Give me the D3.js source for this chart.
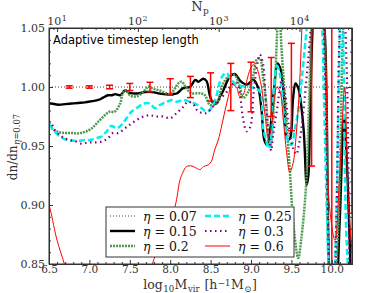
<!DOCTYPE html>
<html><head><meta charset="utf-8">
<script src="https://cdn.jsdelivr.net/npm/d3@7"></script>
<style>body{margin:0;background:#fff}svg{display:block}</style>
</head><body><svg id="c" width="390" height="293"></svg>
<script>
// ---------------- data ----------------
const massEta007 = [6.5, 10.25];
const ratioEta007 = [1.0, 1.0];

const massEta015 = [6.5,6.53,6.615,6.70,6.78,6.86,6.945,7.03,7.11,7.17,7.23,7.28,7.32,7.38,7.44,7.50,7.585,7.67,7.75,7.83,7.915,8.0,8.08,8.16,8.245,8.31,8.35,8.41,8.45,8.49,8.53,8.575,8.615,8.65,8.74,8.80,8.87,8.95,9.03,9.09,9.13,9.165,9.2,9.24,9.28,9.33,9.37,9.41,9.45,9.48,9.52,9.55,9.585,9.65,9.69,9.71,9.73,9.77,9.83,9.91,9.97,10.03,10.10,10.15,10.19,10.25];
const ratioEta015 = [0.986,0.986,0.985,0.9855,0.986,0.9865,0.987,0.988,0.989,0.991,0.993,0.993,0.994,0.993,0.997,0.995,0.9945,0.9955,0.996,0.995,0.994,0.994,0.9945,0.999,1.0,1.006,1.0045,1.007,1.005,0.993,0.9865,0.986,0.992,0.996,1.009,1.011,1.005,1.002,1.006,0.999,0.981,0.955,0.951,0.965,0.995,1.02,1.014,0.99,0.956,0.956,0.99,1.003,0.999,0.965,0.917,0.925,0.97,1.06,1.10,1.05,0.84,0.79,0.89,0.975,0.93,0.80];

const massEta02 = [6.5,6.53,6.615,6.70,6.78,6.86,6.945,7.03,7.11,7.19,7.25,7.31,7.38,7.42,7.46,7.50,7.585,7.67,7.73,7.79,7.87,7.95,8.0,8.06,8.10,8.14,8.20,8.26,8.37,8.43,8.49,8.55,8.60,8.65,8.74,8.80,8.86,8.90,8.97,9.03,9.07,9.11,9.15,9.19,9.215,9.24,9.26,9.30,9.345,9.38,9.42,9.48,9.53,9.585,9.62,9.68,9.72,9.76,9.85,9.92,9.96,10.0,10.08,10.14,10.18,10.25];
const ratioEta02 = [0.967,0.965,0.962,0.961,0.961,0.9607,0.962,0.965,0.9706,0.976,0.979,0.979,0.986,0.996,0.997,0.993,0.992,0.996,1.0003,0.9985,0.997,0.9947,0.994,0.999,1.003,1.0045,0.999,0.9947,0.9947,0.993,0.985,0.985,0.99,1.002,1.01,1.01,1.0006,0.9907,0.9964,1.01,1.023,1.024,1.0076,0.985,0.955,0.949,0.96,1.0076,1.07,1.03,0.99,0.93,0.88,0.855,0.87,0.915,0.99,1.06,1.10,1.02,0.85,0.80,0.88,1.05,1.10,1.10];

const massEta025 = [6.5,6.53,6.575,6.64,6.70,6.78,6.86,6.945,7.01,7.07,7.15,7.21,7.27,7.34,7.40,7.46,7.52,7.585,7.67,7.75,7.81,7.87,7.96,8.02,8.08,8.16,8.245,8.33,8.39,8.45,8.49,8.53,8.575,8.615,8.66,8.70,8.74,8.82,8.905,8.99,9.03,9.11,9.15,9.19,9.215,9.24,9.275,9.32,9.36,9.40,9.46,9.50,9.545,9.585,9.63,9.67,9.69,9.73,9.80,9.88,9.90,9.96,10.0,10.04,10.1,10.12,10.14,10.2,10.25];
const ratioEta025 = [0.968,0.966,0.962,0.958,0.9556,0.9545,0.9545,0.955,0.955,0.9565,0.958,0.962,0.967,0.965,0.968,0.9735,0.979,0.982,0.986,0.986,0.982,0.9847,0.9875,0.989,0.9875,0.989,0.9875,0.985,0.982,0.979,0.9805,0.985,0.993,1.0045,1.0104,1.012,1.0076,1.002,1.0006,1.0006,0.999,0.9964,0.965,0.954,0.948,0.952,0.99,1.018,1.01,0.98,0.954,0.951,0.965,0.98,1.0076,1.036,1.05,1.09,1.10,1.05,1.0,0.85,0.80,0.85,1.05,1.10,1.05,0.85,0.83];

const massEta03 = [6.5,6.53,6.575,6.64,6.70,6.76,6.82,6.90,6.985,7.07,7.15,7.23,7.29,7.36,7.44,7.50,7.585,7.67,7.75,7.83,7.915,8.0,8.08,8.16,8.22,8.29,8.33,8.39,8.45,8.51,8.575,8.615,8.69,8.74,8.82,8.87,8.90,8.945,8.99,9.03,9.07,9.11,9.15,9.19,9.23,9.25,9.275,9.32,9.38,9.42,9.46,9.52,9.56,9.60,9.64,9.68,9.72,9.74,9.78,9.85,9.9,9.95,9.98,10.02,10.06,10.1,10.14,10.19,10.22,10.25];
const ratioEta03 = [0.971,0.969,0.963,0.959,0.9563,0.955,0.9543,0.952,0.953,0.953,0.9537,0.9565,0.961,0.961,0.965,0.968,0.972,0.975,0.976,0.975,0.975,0.9735,0.978,0.983,0.9875,0.985,0.9805,0.978,0.978,0.982,0.9875,0.990,0.995,1.0,1.004,0.99,0.974,0.9625,0.966,0.9935,1.016,1.0275,1.019,0.98,0.955,0.946,0.96,0.98,1.005,0.995,0.971,0.948,0.943,0.954,0.974,1.002,1.033,1.05,1.08,1.10,1.05,0.9,0.84,0.83,0.9,1.05,1.08,1.0,0.85,0.80];

const massEta06 = [6.5,6.52,6.6,6.69,6.8,7.0,7.3,7.6,7.78,7.92,8.06,8.12,8.16,8.20,8.27,8.33,8.37,8.41,8.47,8.51,8.55,8.595,8.64,8.68,8.72,8.76,8.82,8.86,8.90,8.95,8.99,9.03,9.07,9.13,9.17,9.215,9.25,9.29,9.32,9.36,9.40,9.44,9.48,9.52,9.56,9.60,9.63,9.66,9.75,9.88,9.91,9.97,10.04,10.10,10.16,10.2,10.25];
const ratioEta06 = [0.90,0.895,0.87,0.85,0.82,0.78,0.76,0.79,0.85,0.875,0.899,0.921,0.928,0.9325,0.933,0.931,0.930,0.9325,0.934,0.937,0.9466,0.955,0.968,0.9805,0.992,1.002,1.0,0.992,0.993,1.006,1.015,1.019,1.016,1.0,0.978,0.957,0.965,0.99,1.0,0.996,0.972,0.945,0.928,0.935,0.96,1.0,1.05,1.09,1.10,1.06,1.05,0.90,0.87,0.93,1.0,0.91,0.86];

const errMass = [6.75,7.0,7.25,7.5,7.75,8.0,8.25,8.5,8.75,9.0,9.25,9.5,9.75,10.0,10.25];
const errHalf = [0.001,0.001,0.0015,0.003,0.004,0.007,0.009,0.012,0.02,0.021,0.025,0.037,0.067,0.2,0.107];

const topTicks = [10, 100, 1000, 10000];
const yTicks = [0.85, 0.90, 0.95, 1.00, 1.05];
const xTicks = [6.5, 7.0, 7.5, 8.0, 8.5, 9.0, 9.5, 10.0];

// ---------------- layout ----------------
const L = 49, R = 352, T = 28, B = 264;
const svg = d3.select('#c');
const x = d3.scaleLinear().domain([6.5, 10.25]).range([L, R]);
const y = d3.scaleLinear().domain([0.85, 1.05]).range([B, T]);
const xTop = d3.scaleLog().domain([Math.pow(10, 0.9), Math.pow(10, 10.25 - 5.6)]).range([L, R]);
const serif = "'DejaVu Serif', serif";
const axisColor = '#333';

svg.append('defs').append('clipPath').attr('id', 'clip')
  .append('rect').attr('x', L).attr('y', T).attr('width', R - L).attr('height', B - T);

const plot = svg.append('g').attr('clip-path', 'url(#clip)');
const line = d3.line().x(d => x(d[0])).y(d => y(d[1])).curve(d3.curveCatmullRom.alpha(0.5));
const zip = (a, b) => a.map((v, i) => [v, b[i]]);

const series = [
  {m: massEta007, r: ratioEta007, color: '#444', w: 1, dash: '1,2', label: '0.07'},
  {m: massEta06,  r: ratioEta06,  color: '#ff0000', w: 1, dash: null, label: '0.6'},
  {m: massEta03,  r: ratioEta03,  color: '#800080', w: 2.2, dash: '1.5,3.5', label: '0.3'},
  {m: massEta025, r: ratioEta025, color: '#00f0f0', w: 2.5, dash: '6,3', label: '0.25'},
  {m: massEta02,  r: ratioEta02,  color: '#4c9a4c', w: 2.5, dash: '2,1', label: '0.2'},
  {m: massEta015, r: ratioEta015, color: '#000', w: 2.4, dash: null, label: '0.15'}
];

const drawOrder = [0, 5, 4, 3, 2, 1];
drawOrder.forEach(i => {
  const s = series[i];
  plot.append('path').datum(zip(s.m, s.r))
    .attr('d', line).attr('fill', 'none')
    .attr('stroke', s.color).attr('stroke-width', s.w)
    .attr('stroke-dasharray', s.dash);
});

// error bars
const eb = plot.append('g').attr('stroke', '#ff0000').attr('stroke-width', 1.5);
errMass.forEach((m, i) => {
  const cx = x(m), y1 = y(1 + errHalf[i]), y2 = y(1 - errHalf[i]);
  eb.append('line').attr('x1', cx).attr('x2', cx).attr('y1', y1).attr('y2', y2);
  eb.append('line').attr('x1', cx - 3.5).attr('x2', cx + 3.5).attr('y1', y1).attr('y2', y1);
  eb.append('line').attr('x1', cx - 3.5).attr('x2', cx + 3.5).attr('y1', y2).attr('y2', y2);
});

// ---------------- axes ----------------
const gx = svg.append('g').attr('transform', `translate(0,${B})`)
  .call(d3.axisBottom(x).tickValues(xTicks).tickSize(-4).tickPadding(2).tickFormat(d3.format('.1f')));
const gxm = svg.append('g').attr('transform', `translate(0,${B})`)
  .call(d3.axisBottom(x).tickValues(d3.range(6.6, 10.25, 0.1).filter(v => Math.abs(v * 2 - Math.round(v * 2)) > 0.01)).tickSize(-2).tickFormat(''));
const gy = svg.append('g').attr('transform', `translate(${L},0)`)
  .call(d3.axisLeft(y).tickValues(yTicks).tickSize(-4).tickPadding(4).tickFormat(d3.format('.2f')));
const gym = svg.append('g').attr('transform', `translate(${L},0)`)
  .call(d3.axisLeft(y).tickValues(d3.range(0.86, 1.05, 0.01)).tickSize(-2).tickFormat(''));
const gyr = svg.append('g').attr('transform', `translate(${R},0)`)
  .call(d3.axisRight(y).tickValues(yTicks).tickSize(-4).tickFormat(''));
const gyrm = svg.append('g').attr('transform', `translate(${R},0)`)
  .call(d3.axisRight(y).tickValues(d3.range(0.86, 1.05, 0.01)).tickSize(-2).tickFormat(''));
const minorTop = [];
[1, 10, 100, 1000, 10000].forEach(dec => { for (let k = 2; k <= 9; k++) { const v = dec * k; if (v > xTop.domain()[0] && v < xTop.domain()[1]) minorTop.push(v); } });
const gt = svg.append('g').attr('transform', `translate(0,${T})`)
  .call(d3.axisTop(xTop).tickValues(topTicks).tickSize(-4).tickPadding(3).tickFormat(''));
const gtm = svg.append('g').attr('transform', `translate(0,${T})`)
  .call(d3.axisTop(xTop).tickValues(minorTop).tickSize(-2).tickFormat(''));

[gx, gxm, gy, gym, gyr, gyrm, gt, gtm].forEach(g => {
  g.selectAll('path').attr('stroke', axisColor);
  g.selectAll('line').attr('stroke', axisColor);
  g.selectAll('text').attr('font-family', serif).attr('font-size', 11).attr('fill', axisColor);
});
gx.selectAll('text').attr('font-size', 10.5);
svg.append('rect').attr('x', L).attr('y', T).attr('width', R - L).attr('height', B - T)
  .attr('fill', 'none').attr('stroke', axisColor).attr('stroke-width', 1);

// top axis labels 10^n
topTicks.forEach(v => {
  const t = svg.append('text').attr('x', xTop(v)).attr('y', 25).attr('text-anchor', 'middle')
    .attr('font-family', serif).attr('font-size', 11).attr('fill', axisColor);
  t.append('tspan').text('10');
  t.append('tspan').attr('dy', -4).attr('dx', 0.5).attr('font-size', 8).text(String(Math.round(Math.log10(v))));
});

// axis titles
const np = svg.append('text').attr('x', 200).attr('y', 11).attr('text-anchor', 'middle')
  .attr('font-family', serif).attr('font-size', 13).attr('fill', axisColor);
np.append('tspan').text('N');
np.append('tspan').attr('dy', 3).attr('dx', 0.5).attr('font-size', 9).text('p');

const xl = svg.append('text').attr('x', 200).attr('y', 289).attr('text-anchor', 'middle')
  .attr('font-family', serif).attr('font-size', 12.5).attr('fill', axisColor);
xl.append('tspan').text('log');
xl.append('tspan').attr('dy', 2.5).attr('dx', 0.5).attr('font-size', 8.5).text('10');
xl.append('tspan').attr('dy', -2.5).attr('dx', 0.5).text('M');
xl.append('tspan').attr('dy', 2.5).attr('dx', 0.5).attr('font-size', 8.5).text('vir');
xl.append('tspan').attr('dy', -2.5).attr('dx', 1).text(' [h');
xl.append('tspan').attr('dy', -3.5).attr('dx', 0.5).attr('font-size', 8.5).text('−1');
xl.append('tspan').attr('dy', 3.5).attr('dx', 0.5).text('M');
xl.append('tspan').attr('dy', 2.5).attr('dx', 0.5).attr('font-size', 8.5).text('⊙');
xl.append('tspan').attr('dy', -2.5).attr('dx', 0.5).text(']');

const yl = svg.append('text').attr('transform', 'translate(17,147) rotate(-90)').attr('text-anchor', 'middle')
  .attr('font-family', serif).attr('font-size', 12).attr('fill', axisColor);
yl.append('tspan').text('dn/dn');
yl.append('tspan').attr('dy', 3).attr('dx', 0.5).attr('font-size', 8.5).attr('font-style', 'italic').text('η');
yl.append('tspan').attr('font-size', 8.5).text('=0.07');

svg.append('text').attr('x', 53).attr('y', 44).attr('font-family', "'DejaVu Sans', sans-serif")
  .attr('font-size', 11.5).attr('fill', '#000').text('Adaptive timestep length');

// ---------------- legend ----------------
const lg = svg.append('g');
lg.append('rect').attr('x', 106).attr('y', 207).attr('width', 188).attr('height', 50)
  .attr('fill', '#fff').attr('stroke', axisColor).attr('stroke-width', 1);
const legendOrder = [0, 5, 4, 3, 2, 1];
legendOrder.forEach((si, k) => {
  const s = series[si];
  const col = Math.floor(k / 3), row = k % 3;
  const lx = 110 + col * 95, ly = 216 + row * 15;
  lg.append('line').attr('x1', lx).attr('x2', lx + 25).attr('y1', ly).attr('y2', ly)
    .attr('stroke', s.color).attr('stroke-width', s.w).attr('stroke-dasharray', s.dash);
  const t = lg.append('text').attr('x', lx + 33).attr('y', ly + 4.5)
    .attr('font-family', serif).attr('font-size', 12.5).attr('fill', '#111');
  t.append('tspan').attr('font-style', 'italic').text('η');
  t.append('tspan').text(' = ' + s.label);
});
</script>
</body></html>
